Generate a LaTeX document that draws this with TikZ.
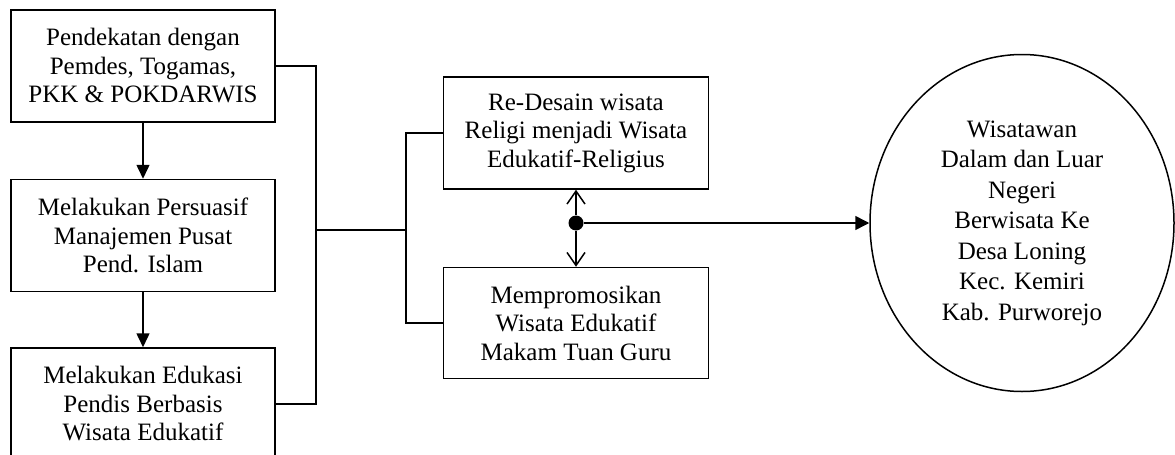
\documentclass[tikz,border=0pt]{standalone}
\usepackage{fontspec}
\setmainfont{Liberation Serif}
\usetikzlibrary{positioning}
\usetikzlibrary{arrows.meta}
\usetikzlibrary{shapes.geometric}
\tikzstyle{kotak}=[draw, line width=1.5pt, align=center, inner sep=0pt, minimum width=264pt, minimum height=112pt, font=\fontsize{25}{28.5}\selectfont]
\tikzstyle{garis}=[line width=1.5pt]

\begin{document}
\begin{tikzpicture}[x=1pt, y=-1pt, garis]
            \useasboundingbox (0,0) rectangle (1175,455);

            \node[kotak] (pendekatan) at (143,66) {Pendekatan dengan\\Pemdes, Togamas,\\PKK \& POKDARWIS};
            \node[kotak, below=56pt of pendekatan] (persuasif) {Melakukan Persuasif\\Manajemen Pusat\\Pend. Islam};
            \node[kotak, below=55pt of persuasif] (edukasi) {Melakukan Edukasi\\Pendis Berbasis\\Wisata Edukatif};

            \node[kotak, minimum width=265pt] (redesain) at (576,133) {Re-Desain wisata\\Religi menjadi Wisata\\Edukatif-Religius};
            \node[kotak, minimum width=265pt, minimum height=111pt, below=77pt of redesain] (promosi) {Mempromosikan\\Wisata Edukatif\\Makam Tuan Guru};

            \node[circle, fill=black, inner sep=0pt, minimum size=15pt] (titik) at (576,223) {};
            \node[ellipse, draw, line width=1.5pt, align=center, inner sep=0pt, minimum width=304pt, minimum height=337pt, font=\fontsize{25}{30.5}\selectfont] (wisatawan) at (1022,223) {Wisatawan\\Dalam dan Luar\\Negeri\\Berwisata Ke\\Desa Loning\\Kec. Kemiri\\Kab. Purworejo};

            \coordinate (kiri) at (316,230);
            \coordinate (kanan) at (406,230);

            \draw[-{Triangle[length=14pt, width=13pt]}] (pendekatan) -- (persuasif);
            \draw[-{Triangle[length=14pt, width=13pt]}] (persuasif) -- (edukasi);

            \draw (pendekatan.east) -- (pendekatan.east -| kiri) -- (edukasi.east -| kiri) -- (edukasi.east);
            \draw (kiri) -- (kanan);
            \draw (redesain.west) -| (kanan) |- (promosi.west);

            \draw[-{Straight Barb[length=13pt, width=18pt]}] (titik) -- (redesain);
            \draw[-{Straight Barb[length=13pt, width=18pt]}] (titik) -- (promosi);
            \draw[-{Triangle[length=14pt, width=14pt]}] (titik) -- (wisatawan);
        \end{tikzpicture}
\end{document}
